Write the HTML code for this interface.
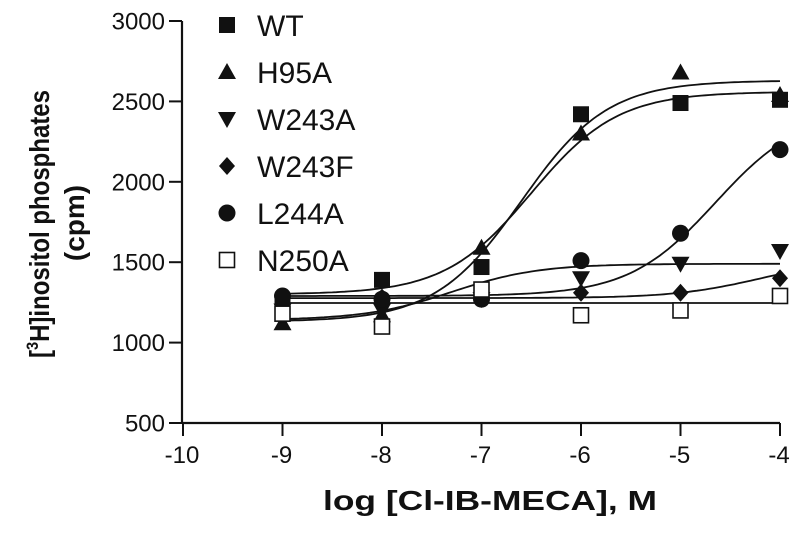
<!DOCTYPE html>
<html><head><meta charset="utf-8"><style>
body{margin:0;background:#fff}
svg text{font-family:"Liberation Sans",Arial,sans-serif;fill:#111}
</style></head><body>
<svg id="chart" width="800" height="533" xmlns="http://www.w3.org/2000/svg"></svg>
<script>
const xTicks=[-10,-9,-8,-7,-6,-5,-4];
const yTicks=[500,1000,1500,2000,2500,3000];
const doses=[-9,-8,-7,-6,-5,-4];
const seriesNames=["WT","H95A","W243A","W243F","L244A","N250A"];
const wtValues=[1230,1390,1470,2420,2490,2510];
const h95aValues=[1120,1170,1590,2300,2680,2540];
const w243aValues=[1200,1200,1270,1400,1490,1570];
const w243fValues=[1200,1280,1280,1310,1310,1400];
const l244aValues=[1290,1270,1270,1510,1680,2200];
const n250aValues=[1180,1100,1330,1170,1200,1290];
// fit params: bottom, top, logEC50
const wtFit=[1300,2560,-6.5];
const h95aFit=[1130,2630,-6.6];
const w243aFit=[1140,1490,-7.3];
const w243fFit=[1277,1520,-4.2];
const l244aFit=[1290,2450,-4.65];
const n250aFit=[1246,1246,-6];
const markers=["sq","tri","tridown","dia","circ","osq"];

const svg=document.getElementById('chart');
const NS="http://www.w3.org/2000/svg";
const X=v=>183+(v+10)*99.5;
const Y=v=>423-(v-500)*0.1608;
function mk(tag,attrs,parent){const e=document.createElementNS(NS,tag);for(const k in attrs)e.setAttribute(k,attrs[k]);(parent||svg).appendChild(e);return e;}

let ax=mk('line',{x1:182,y1:Y(3000),x2:182,y2:424,stroke:'#111','stroke-width':2.2});


let bx=mk('line',{x1:182,y1:423,x2:X(-4),y2:423,stroke:'#111','stroke-width':2.2});


yTicks.forEach(t=>{
  mk('line',{x1:169,y1:Y(t),x2:182,y2:Y(t),stroke:'#111','stroke-width':2});
  const tx=mk('text',{x:165,y:Y(t)+8.5,'text-anchor':'end','font-size':24});
  tx.textContent=t;
  
  
});
xTicks.forEach(t=>{
  mk('line',{x1:X(t),y1:423,x2:X(t),y2:436,stroke:'#111','stroke-width':2});
  const tx=mk('text',{x:X(t)-1,y:463,'text-anchor':'middle','font-size':24});
  tx.textContent=t;
  
  
});
let xt=mk('text',{x:323,y:510,'font-size':28,'font-weight':'bold',textLength:334,lengthAdjust:'spacingAndGlyphs'});
xt.textContent='log [Cl-IB-MECA], M';


let yt=mk('text',{transform:'translate(49,358) rotate(-90)','font-size':28,'font-weight':'bold',textLength:268,lengthAdjust:'spacingAndGlyphs'});
yt.innerHTML='[<tspan font-size="17" dy="-11">3</tspan><tspan dy="11">H]inositol phosphates</tspan>';


let yt2=mk('text',{transform:'translate(84,223) rotate(-90)','text-anchor':'middle','font-size':28,'font-weight':'bold'});
yt2.textContent='(cpm)';



function marker(type,cx,cy,name){
  let e;
  if(type==='sq')e=mk('rect',{x:cx-8,y:cy-8,width:16,height:16,fill:'#111'});
  else if(type==='osq')e=mk('rect',{x:cx-7.5,y:cy-7.5,width:15,height:15,fill:'#fff',stroke:'#111','stroke-width':1.6});
  else if(type==='tri')e=mk('polygon',{points:`${cx},${cy-9} ${cx+9},${cy+7} ${cx-9},${cy+7}`,fill:'#111'});
  else if(type==='tridown')e=mk('polygon',{points:`${cx},${cy+9} ${cx+9},${cy-7} ${cx-9},${cy-7}`,fill:'#111'});
  else if(type==='dia')e=mk('polygon',{points:`${cx},${cy-9} ${cx+8},${cy} ${cx},${cy+9} ${cx-8},${cy}`,fill:'#111'});
  else e=mk('circle',{cx:cx,cy:cy,r:8.5,fill:'#111'});
  
  
  return e;
}
const allValues=[wtValues,h95aValues,w243aValues,w243fValues,l244aValues,n250aValues];
const allFits=[wtFit,h95aFit,w243aFit,w243fFit,l244aFit,n250aFit];
allFits.forEach((f,i)=>{
  let d='';
  for(let k=0;k<=120;k++){const x=-9+k*5/120;const v=f[0]+(f[1]-f[0])/(1+Math.pow(10,f[2]-x));d+=(k?'L':'M')+X(x).toFixed(1)+','+Y(v).toFixed(1);}
  const p=mk('path',{d:d,fill:'none',stroke:'#111','stroke-width':1.8});
  
  
});
allValues.forEach((vals,i)=>{
  vals.forEach((v,j)=>marker(markers[i],X(doses[j]),Y(v),'point-'+seriesNames[i].toLowerCase()));
});
seriesNames.forEach((n,i)=>{
  const cy=25+i*47;
  marker(markers[i],227,cy,'legend-marker-'+n.toLowerCase());
  const t=mk('text',{x:257,y:cy+11,'font-size':30});
  t.textContent=n;
  
  
});
</script>
</body></html>
